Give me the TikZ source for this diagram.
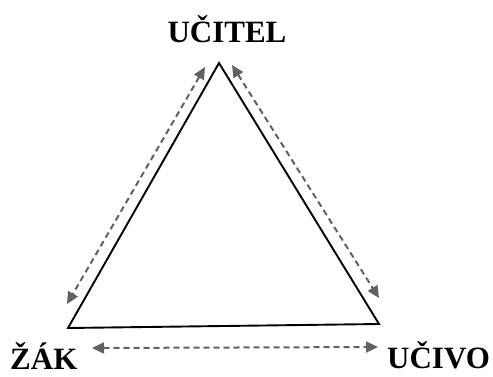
\documentclass[tikz,border=0pt]{standalone}
\usepackage{fontspec}
\setmainfont{Liberation Serif}
\usetikzlibrary{arrows.meta}

\begin{document}
\begin{tikzpicture}[x=1pt,y=-1pt,>={Triangle[length=12pt,width=11pt]},
  every node/.style={font=\bfseries\fontsize{31}{31}\selectfont,inner sep=0pt},
  side/.style={line width=1.9pt},
  link/.style={<->,dash pattern=on 6pt off 4pt,line width=2pt,draw=black!62}]
  \useasboundingbox (0,0) rectangle (493,376);
  % corners of the triangle
  \coordinate (T) at (219,63);
  \coordinate (L) at (68,328);
  \coordinate (R) at (379,324);
  \draw[side] (T) -- (L) -- (R) -- cycle;
  % labels
  \node[anchor=base] (ucitel) at (227,42) {UČITEL};
  \node[anchor=base west] (zak) at (10,369) {ŽÁK};
  \node[anchor=base west] (ucivo) at (387,368) {UČIVO};
  % dashed relations along the sides
  \coordinate (tl) at (205,67);
  \coordinate (lt) at (67,304);
  \coordinate (tr) at (232,65);
  \coordinate (rt) at (379,298);
  \coordinate (zr) at (92,348);
  \coordinate (ur) at (378,347);
  \draw[link] (tl) -- (lt);
  \draw[link] (tr) -- (rt);
  \draw[link] (zr) -- (ur);
\end{tikzpicture}
\end{document}
